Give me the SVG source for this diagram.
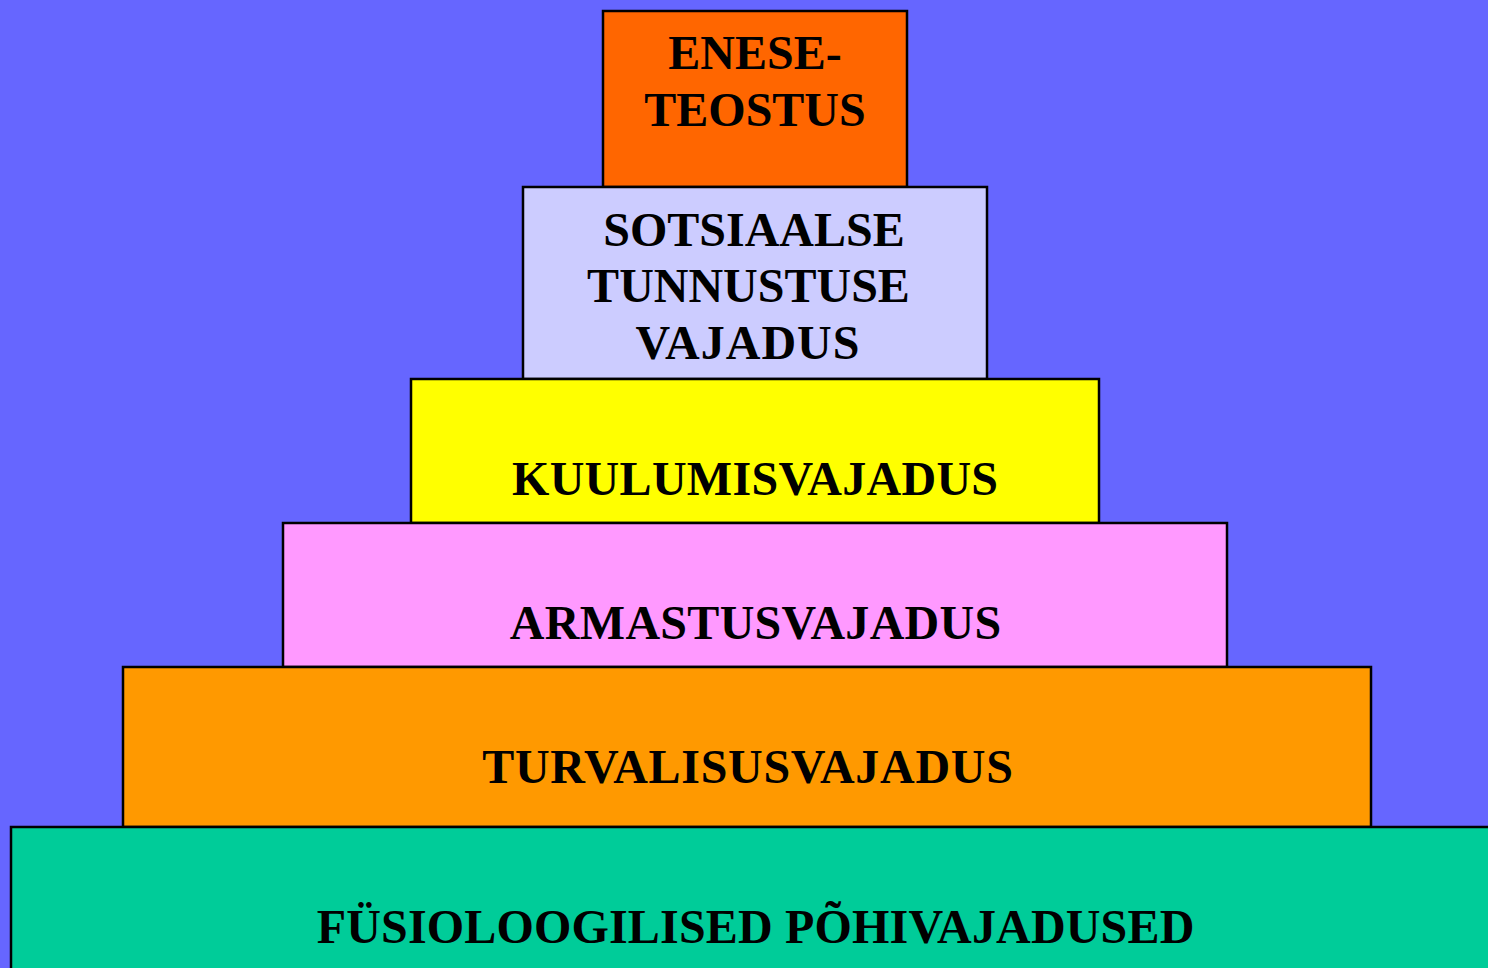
<svg xmlns="http://www.w3.org/2000/svg" width="1488" height="968" viewBox="0 0 1488 968">
<style>
.box{stroke:#000;stroke-width:2.5}
.t{font-family:"Liberation Serif","Times New Roman",serif;font-weight:bold;font-size:48px;fill:#000;text-anchor:middle}
</style>
<rect x="0" y="0" width="1488" height="968" fill="#6666FF"/>
<g id="n-enese">
<rect class="box" x="603" y="11" width="304" height="176" fill="#FF6600"/>
<text class="t" x="755" y="69">ENESE-</text>
<text class="t" x="755" y="126">TEOSTUS</text>
</g>
<g id="n-sotsiaalse">
<rect class="box" x="523" y="187" width="464" height="192" fill="#CCCCFF"/>
<text class="t" x="754" y="246">SOTSIAALSE</text>
<text class="t" x="748.5" y="302">TUNNUSTUSE</text>
<text class="t" x="748" y="359" style="letter-spacing:1px">VAJADUS</text>
</g>
<g id="n-kuulumis">
<rect class="box" x="411" y="379" width="688" height="144" fill="#FFFF00"/>
<text class="t" x="755.2" y="495" style="letter-spacing:0.3px">KUULUMISVAJADUS</text>
</g>
<g id="n-armastus">
<rect class="box" x="283" y="523" width="944" height="144" fill="#FF99FF"/>
<text class="t" x="755.7" y="639" style="letter-spacing:0.3px">ARMASTUSVAJADUS</text>
</g>
<g id="n-turvalisus">
<rect class="box" x="123" y="667" width="1248" height="160" fill="#FF9900"/>
<text class="t" x="747.9" y="783" style="letter-spacing:0.7px">TURVALISUSVAJADUS</text>
</g>
<g id="n-fysio">
<rect class="box" x="11" y="827" width="1500" height="160" fill="#00CC99"/>
<text class="t" x="755.6" y="943" style="letter-spacing:0.18px">FÜSIOLOOGILISED PÕHIVAJADUSED</text>
</g>
<g id="connectors"></g>
</svg>
